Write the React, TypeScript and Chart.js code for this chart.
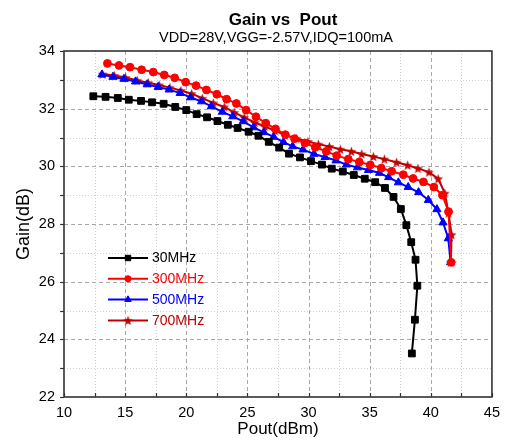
import React, { useEffect, useRef } from 'react';
import { Chart, registerables } from 'chart.js';
import { drawPoint } from 'chart.js/helpers';

Chart.register(...registerables);

const FONT = "'Liberation Sans', Arial, sans-serif";

const titleText = 'Gain vs  Pout';
const subtitleText = 'VDD=28V,VGG=-2.57V,IDQ=100mA';
const xTitle = 'Pout(dBm)';
const yTitle = 'Gain(dB)';

const xTickValues = [10, 15, 20, 25, 30, 35, 40, 45];
const yTickValues = [22, 24, 26, 28, 30, 32, 34];

const seriesNames = ['30MHz', '300MHz', '500MHz', '700MHz'];
const seriesColors = ['#000000', '#FF0000', '#0000FF', '#C00000'];

const pout30 = [12.4, 13.4, 14.4, 15.3, 16.3, 17.2, 18.15, 19.1, 20.0, 20.85, 21.7, 22.55, 23.4, 24.2, 25.1, 25.9, 26.75, 27.6, 28.4, 29.3, 30.2, 31.1, 31.9, 32.8, 33.7, 34.6, 35.45, 36.25, 36.95, 37.55, 38.0, 38.4, 38.75, 38.9, 38.7, 38.45];
const gain30 = [32.43, 32.41, 32.37, 32.31, 32.27, 32.22, 32.17, 32.06, 31.95, 31.81, 31.70, 31.57, 31.44, 31.33, 31.20, 31.06, 30.85, 30.65, 30.44, 30.31, 30.18, 30.06, 29.92, 29.82, 29.70, 29.57, 29.45, 29.25, 28.94, 28.52, 27.96, 27.37, 26.76, 25.86, 24.68, 23.51];

const pout300 = [13.55, 14.5, 15.4, 16.35, 17.3, 18.2, 19.05, 19.95, 20.8, 21.65, 22.5, 23.3, 24.1, 24.9, 25.7, 26.5, 27.3, 28.1, 28.85, 29.7, 30.55, 31.45, 32.3, 33.25, 34.15, 35.05, 35.95, 36.8, 37.75, 38.55, 39.4, 40.25, 40.95, 41.45, 41.67];
const gain300 = [33.57, 33.50, 33.44, 33.35, 33.27, 33.17, 33.07, 32.92, 32.80, 32.65, 32.50, 32.33, 32.18, 31.95, 31.72, 31.50, 31.30, 31.10, 30.96, 30.81, 30.66, 30.52, 30.37, 30.25, 30.15, 30.05, 29.94, 29.83, 29.71, 29.58, 29.46, 29.28, 29.00, 28.43, 26.67];

const pout500 = [13.1, 14.0, 14.9, 15.85, 16.8, 17.7, 18.6, 19.5, 20.35, 21.25, 22.05, 22.95, 23.8, 24.65, 25.5, 26.35, 27.15, 27.95, 28.7, 29.55, 30.45, 31.35, 32.25, 33.1, 34.0, 34.9, 35.8, 36.55, 37.35, 38.15, 39.0, 39.8, 40.5, 41.0, 41.43, 41.62];
const gain500 = [33.18, 33.10, 33.03, 32.94, 32.84, 32.75, 32.66, 32.54, 32.39, 32.25, 32.08, 31.89, 31.73, 31.56, 31.35, 31.18, 31.02, 30.84, 30.69, 30.58, 30.43, 30.32, 30.20, 30.06, 29.96, 29.87, 29.77, 29.62, 29.44, 29.28, 29.10, 28.83, 28.51, 28.05, 27.5, 26.67];

const pout700 = [13.16, 14.11, 15.04, 15.99, 16.89, 17.79, 18.66, 19.56, 20.44, 21.31, 22.21, 23.11, 23.92, 24.74, 25.61, 26.43, 27.25, 28.1, 29.0, 29.95, 30.8, 31.7, 32.6, 33.5, 34.35, 35.3, 36.2, 37.2, 38.1, 38.95, 39.85, 40.6, 41.15, 41.45, 41.7, 41.64];
const gain700 = [33.20, 33.15, 33.08, 32.98, 32.90, 32.82, 32.73, 32.63, 32.52, 32.36, 32.20, 32.06, 31.87, 31.70, 31.52, 31.38, 31.24, 31.08, 30.97, 30.86, 30.77, 30.69, 30.59, 30.52, 30.43, 30.34, 30.25, 30.14, 30.04, 29.93, 29.80, 29.57, 29.07, 28.38, 27.63, 26.67];

function makeStar(color: string, outer: number) {
  const size = Math.ceil(outer * 2 + 2);
  const c = document.createElement('canvas');
  c.width = size;
  c.height = size;
  const ctx = c.getContext('2d')!;
  const cx = size / 2;
  const cy = size / 2 + 0.5;
  const inner = outer * 0.42;
  ctx.beginPath();
  for (let i = 0; i < 10; i++) {
    const r = i % 2 === 0 ? outer : inner;
    const a = -Math.PI / 2 + (i * Math.PI) / 5;
    const px = cx + r * Math.cos(a);
    const py = cy + r * Math.sin(a);
    if (i === 0) ctx.moveTo(px, py);
    else ctx.lineTo(px, py);
  }
  ctx.closePath();
  ctx.fillStyle = color;
  ctx.fill();
  return c;
}

function midpoints(v: number[]) {
  const out: number[] = [];
  for (let i = 0; i < v.length - 1; i++) out.push((v[i] + v[i + 1]) / 2);
  return out;
}

const frame = {
  id: 'frame',
  beforeDatasetsDraw(chart: any) {
    const { ctx, chartArea: a, scales } = chart;
    const x = scales.x;
    const y = scales.y;
    ctx.save();
    ctx.lineWidth = 1;
    ctx.strokeStyle = '#cfcfcf';
    ctx.setLineDash([1, 2]);
    midpoints(xTickValues).forEach((v) => {
      const p = Math.round(x.getPixelForValue(v)) + 0.5;
      ctx.beginPath(); ctx.moveTo(p, a.top); ctx.lineTo(p, a.bottom); ctx.stroke();
    });
    midpoints(yTickValues).forEach((v) => {
      const p = Math.round(y.getPixelForValue(v)) + 0.5;
      ctx.beginPath(); ctx.moveTo(a.left, p); ctx.lineTo(a.right, p); ctx.stroke();
    });
    ctx.strokeStyle = '#a8a8a8';
    ctx.setLineDash([4, 3]);
    xTickValues.slice(1, -1).forEach((v) => {
      const p = Math.round(x.getPixelForValue(v)) + 0.5;
      ctx.beginPath(); ctx.moveTo(p, a.top); ctx.lineTo(p, a.bottom); ctx.stroke();
    });
    yTickValues.slice(1, -1).forEach((v) => {
      const p = Math.round(y.getPixelForValue(v)) + 0.5;
      ctx.beginPath(); ctx.moveTo(a.left, p); ctx.lineTo(a.right, p); ctx.stroke();
    });
    ctx.restore();
  },
  afterDatasetsDraw(chart: any) {
    const { ctx, chartArea: a, scales } = chart;
    const x = scales.x;
    const y = scales.y;
    ctx.save();
    ctx.setLineDash([]);
    ctx.strokeStyle = '#333333';
    ctx.lineWidth = 1.2;
    const tl = 4;
    const allX = [...xTickValues, ...midpoints(xTickValues)];
    allX.forEach((v) => {
      const p = Math.round(x.getPixelForValue(v)) + 0.5;
      ctx.beginPath(); ctx.moveTo(p, a.bottom); ctx.lineTo(p, a.bottom - tl); ctx.stroke();
    });
    const allY = [...yTickValues, ...midpoints(yTickValues)];
    allY.forEach((v) => {
      const p = Math.round(y.getPixelForValue(v)) + 0.5;
      ctx.beginPath(); ctx.moveTo(a.left, p); ctx.lineTo(a.left - tl, p); ctx.stroke();
    });
    ctx.lineWidth = 1.6;
    ctx.strokeRect(a.left, a.top, a.right - a.left, a.bottom - a.top);
    ctx.restore();
  },
};

const texts = {
  id: 'texts',
  afterDraw(chart: any) {
    const { ctx, chartArea: a } = chart;
    ctx.save();
    ctx.textBaseline = 'middle';
    ctx.textAlign = 'center';
    ctx.fillStyle = '#000';
    ctx.font = `bold 17px ${FONT}`;
    ctx.fillText(titleText, 283, 20.5);
    ctx.font = `14.5px ${FONT}`;
    ctx.fillText(subtitleText, 276, 38);

    const lx = a.left + 44;
    const ly = a.top + 207;
    chart.data.datasets.forEach((ds: any, i: number) => {
      const yy = ly + i * 20.8;
      ctx.strokeStyle = ds.borderColor;
      ctx.lineWidth = ds.borderWidth;
      ctx.beginPath(); ctx.moveTo(lx, yy); ctx.lineTo(lx + 40, yy); ctx.stroke();
      ctx.fillStyle = ds.pointBackgroundColor;
      ctx.strokeStyle = ds.pointBorderColor;
      ctx.lineWidth = 1;
      drawPoint(ctx, { pointStyle: ds.pointStyle, radius: ds.pointRadius * 0.8, rotation: 0, borderWidth: 1 }, lx + 20, yy);
      ctx.fillStyle = ds.borderColor;
      ctx.textAlign = 'left';
      ctx.font = `14px ${FONT}`;
      ctx.fillText(ds.label, lx + 44, yy + 0.5);
    });
    ctx.restore();
  },
};

export default function App() {
  const ref = useRef<HTMLCanvasElement>(null);
  useEffect(() => {
    if (!ref.current) return;
    const star = makeStar(seriesColors[3], 5.2);
    const pairs = [
      [pout30, gain30, 'rect', 4.8],
      [pout300, gain300, 'circle', 3.9],
      [pout500, gain500, 'triangle', 4.7],
      [pout700, gain700, star, 4.6],
    ] as any[];
    const datasets = pairs.map((p, i) => ({
      label: seriesNames[i],
      data: (p[0] as number[]).map((v, j) => ({ x: v, y: (p[1] as number[])[j] })),
      showLine: true,
      borderColor: seriesColors[i],
      backgroundColor: seriesColors[i],
      pointBackgroundColor: seriesColors[i],
      pointBorderColor: seriesColors[i],
      borderWidth: 2,
      pointStyle: p[2],
      pointRadius: p[3],
      pointBorderWidth: 1,
      tension: 0,
    }));
    const chart = new Chart(ref.current, {
      type: 'scatter',
      data: { datasets },
      plugins: [frame, texts],
      options: {
        animation: false,
        responsive: false,
        maintainAspectRatio: false,
        layout: { padding: { top: 51, right: 15, left: 0, bottom: 0 } },
        plugins: {
          legend: { display: false },
          title: { display: false },
          tooltip: { enabled: false },
        },
        scales: {
          x: {
            type: 'linear',
            min: xTickValues[0],
            max: xTickValues[xTickValues.length - 1],
            afterBuildTicks: (s: any) => { s.ticks = xTickValues.map((v) => ({ value: v })); },
            afterFit: (s: any) => { s.height = 47; },
            grid: { display: false, drawTicks: false },
            border: { display: false },
            ticks: { color: '#000', font: { family: FONT, size: 14.5 }, padding: 7, maxRotation: 0, autoSkip: false },
            title: { display: true, text: xTitle, color: '#000', font: { family: FONT, size: 17 }, padding: { top: 0, bottom: 4 } },
          },
          y: {
            type: 'linear',
            min: yTickValues[0],
            max: yTickValues[yTickValues.length - 1],
            afterBuildTicks: (s: any) => { s.ticks = yTickValues.map((v) => ({ value: v })); },
            afterFit: (s: any) => { s.width = 64; },
            grid: { display: false, drawTicks: false },
            border: { display: false },
            ticks: { color: '#000', font: { family: FONT, size: 14.5 }, padding: 9, autoSkip: false },
            title: { display: true, text: yTitle, color: '#000', font: { family: FONT, size: 18 }, padding: { top: 13, bottom: 0 } },
          },
        },
      } as any,
    });
    return () => chart.destroy();
  }, []);
  return (
    <div style={{ position: 'fixed', left: 0, top: 0, width: 507, height: 444, background: '#fff' }}>
      <canvas ref={ref} width={507} height={444} style={{ width: 507, height: 444, display: 'block' }} />
    </div>
  );
}
